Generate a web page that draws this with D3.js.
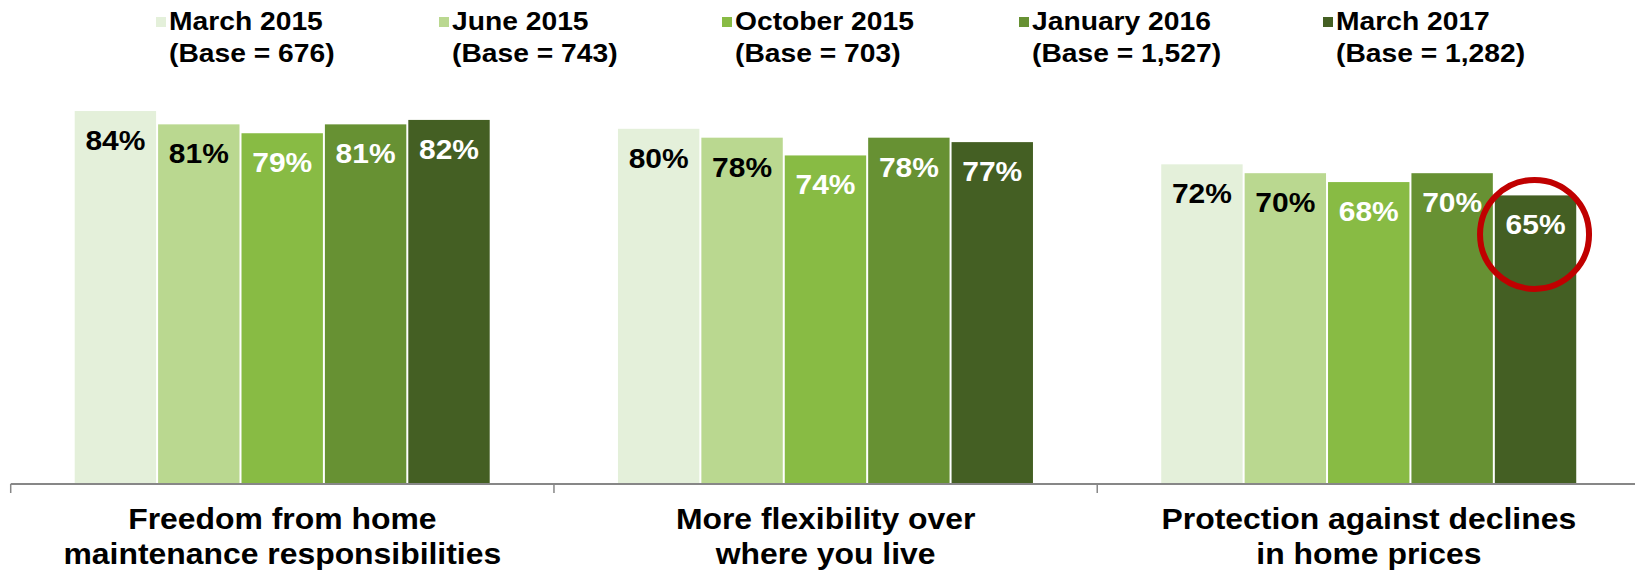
<!DOCTYPE html>
<html>
<head>
<meta charset="utf-8">
<script src="https://cdn.jsdelivr.net/npm/d3@7"></script>
<style>
  html, body { margin: 0; padding: 0; background: #ffffff; }
  svg { display: block; font-family: "Liberation Sans", Arial, Helvetica, sans-serif; font-weight: bold; }
</style>
</head>
<body>
<svg id="chart" width="1635" height="575"></svg>
<script>
// Survey waves (legend) and the sample base for each wave
const waves = ["March 2015", "June 2015", "October 2015", "January 2016", "March 2017"];
const bases = ["(Base = 676)", "(Base = 743)", "(Base = 703)", "(Base = 1,527)", "(Base = 1,282)"];

// Reasons asked about (x categories), one label line per entry
const categories = [
  ["Freedom from home", "maintenance responsibilities"],
  ["More flexibility over", "where you live"],
  ["Protection against declines", "in home prices"]
];

// Share of respondents (%) per reason, one array per wave
const march2015   = [84, 80, 72];
const june2015    = [81, 78, 70];
const october2015 = [79, 74, 68];
const january2016 = [81, 78, 70];
const march2017   = [82, 77, 65];
const seriesValues = [march2015, june2015, october2015, january2016, march2017];

const colors = ["#E4F0DA", "#BAD890", "#88BB44", "#679133", "#445F23"];
const labelColors = ["#000000", "#000000", "#ffffff", "#ffffff", "#ffffff"];

// Wave whose value in the last category is circled
const highlight = { wave: 4, category: 2 };

const svg = d3.select("#chart");

const catKeys = categories.map(c => c.join(" "));
const axisY = 484;

const x0 = d3.scaleBand().domain(catKeys).range([10.7, 1640.5]).paddingInner(0).paddingOuter(0);
const groupInset = 64;
const x1 = d3.scaleBand().domain(d3.range(waves.length)).range([0, 417]).padding(0);
const y = d3.scaleLinear().domain([0, 100]).range([axisY, 40]);

// Bars
const groups = svg.append("g").selectAll("g")
  .data(catKeys)
  .join("g")
  .attr("transform", d => `translate(${x0(d) + groupInset},0)`);

groups.selectAll("rect")
  .data((d, ci) => seriesValues.map((vals, si) => ({ si, ci, v: vals[ci] })))
  .join("rect")
  .attr("x", d => x1(d.si))
  .attr("width", x1.bandwidth() - 2)
  .attr("y", d => y(d.v))
  .attr("height", d => y(0) - y(d.v))
  .attr("fill", d => colors[d.si]);

// Value labels inside the top of each bar
groups.selectAll("text")
  .data((d, ci) => seriesValues.map((vals, si) => ({ si, ci, v: vals[ci] })))
  .join("text")
  .attr("transform", d => `translate(${x1(d.si) + (x1.bandwidth() - 2) / 2},${y(d.v) + 39}) scale(1.11,1)`)
  .attr("text-anchor", "middle")
  .attr("font-size", 27)
  .attr("fill", d => labelColors[d.si])
  .text(d => d.v + "%");

// Category axis: baseline with ticks at the category boundaries
const axis = svg.append("g");
axis.append("line")
  .attr("x1", x0.range()[0]).attr("x2", x0.range()[1])
  .attr("y1", axisY).attr("y2", axisY)
  .attr("stroke", "#878787").attr("stroke-width", 2);
const boundaries = catKeys.map(k => x0(k)).concat([x0.range()[1]]);
axis.selectAll("line.tick")
  .data(boundaries)
  .join("line")
  .attr("class", "tick")
  .attr("x1", d => d).attr("x2", d => d)
  .attr("y1", axisY).attr("y2", axisY + 9)
  .attr("stroke", "#878787").attr("stroke-width", 1.5);

// Category labels, two lines each
const catLabels = axis.selectAll("g.cat")
  .data(categories)
  .join("g")
  .attr("class", "cat");
catLabels.selectAll("text")
  .data((d, i) => d.map((line, li) => ({ line, li, key: catKeys[i] })))
  .join("text")
  .attr("transform", d => `translate(${x0(d.key) + x0.bandwidth() / 2},${529 + d.li * 35}) scale(1.10,1)`)
  .attr("text-anchor", "middle")
  .attr("font-size", 29)
  .attr("fill", "#000")
  .text(d => d.line);

// Highlight ring around the circled bar
const hx = x0(catKeys[highlight.category]) + groupInset + x1(highlight.wave) + (x1.bandwidth() - 2) / 2;
const hv = seriesValues[highlight.wave][highlight.category];
svg.append("circle")
  .attr("cx", hx - 1)
  .attr("cy", y(hv) + 39)
  .attr("r", 54.5)
  .attr("fill", "none")
  .attr("stroke", "#C00000")
  .attr("stroke-width", 6);

// Legend: swatch plus two-line label per wave
const legendX = [156, 439, 722, 1019, 1323];
const legend = svg.append("g").selectAll("g")
  .data(waves)
  .join("g")
  .attr("transform", (d, i) => `translate(${legendX[i]},0)`);
legend.append("rect")
  .attr("x", 0).attr("y", 17)
  .attr("width", 10).attr("height", 10)
  .attr("fill", (d, i) => colors[i]);
legend.append("text")
  .attr("transform", "translate(13,30) scale(1.13,1)")
  .attr("font-size", 25)
  .attr("fill", "#000")
  .text(d => d);
legend.append("text")
  .attr("transform", "translate(13,62) scale(1.13,1)")
  .attr("font-size", 25)
  .attr("fill", "#000")
  .text((d, i) => bases[i]);
</script>
</body>
</html>
